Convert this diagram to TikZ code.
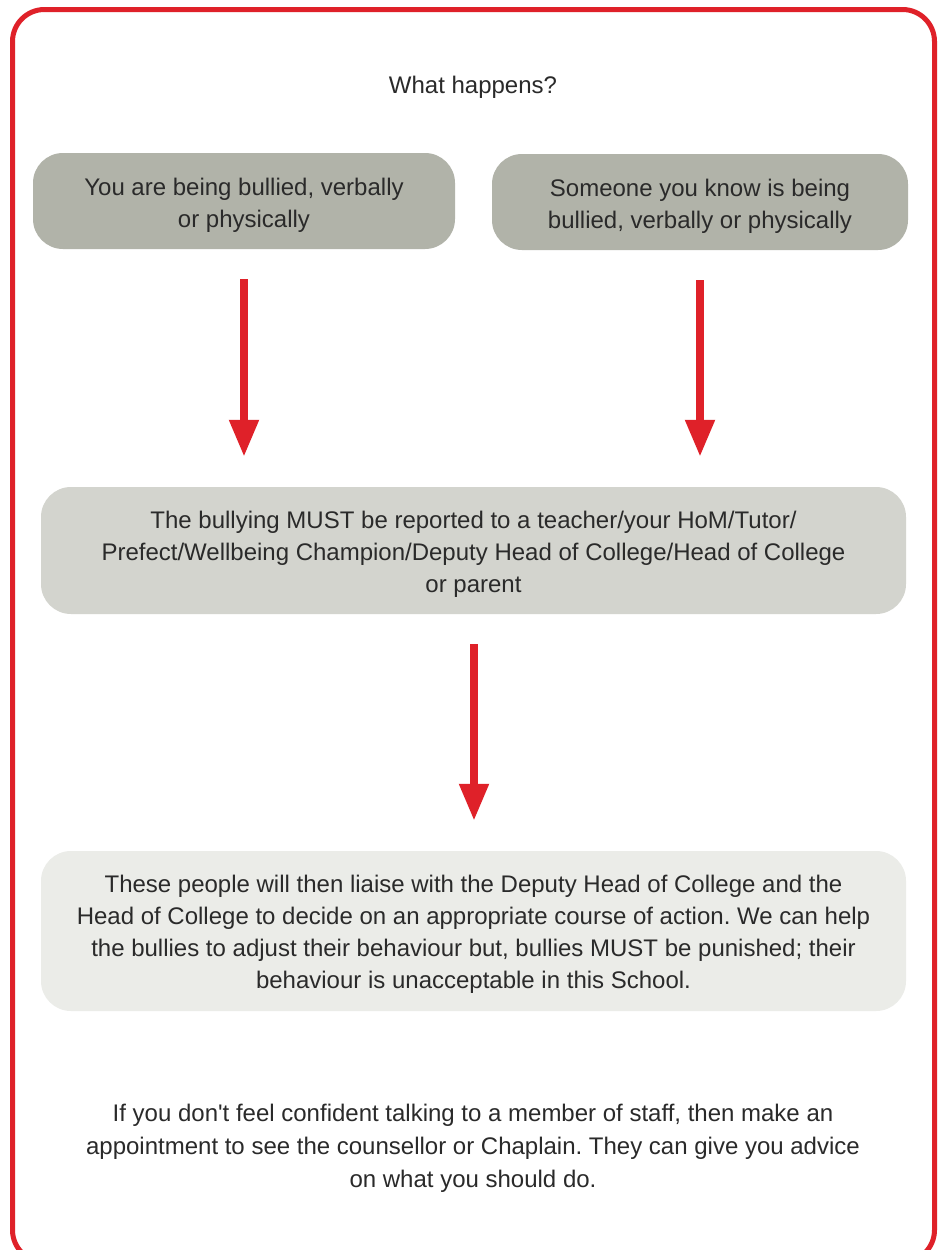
\documentclass[tikz,border=0pt]{standalone}
\usepackage{fontspec}
\setmainfont{Liberation Sans}[Ligatures=TeXOff]
\usetikzlibrary{arrows.meta}
\definecolor{bred}{HTML}{DF2129}
\definecolor{gdark}{HTML}{B1B3A9}
\definecolor{gmid}{HTML}{D3D4CE}
\definecolor{glight}{HTML}{EBECE8}
\definecolor{txt}{HTML}{2A2A2A}
\tikzset{
  box/.style={rounded corners=30pt, inner sep=0pt},
  boxtext/.style={inner sep=0pt, align=center, text=txt,
    font=\fontsize{24}{32}\selectfont\frenchspacing},
  txtnode/.style={inner sep=0pt, align=center, text=txt, font=\fontsize{24}{33}\selectfont\frenchspacing},
  flow/.style={draw=bred, line width=8pt,
    -{Triangle[length=37pt,width=28pt]}, shorten <=30pt, shorten >=30pt}
}
\begin{document}
\begin{tikzpicture}[x=1pt,y=-1pt]
\useasboundingbox (0,0) rectangle (941,1250);
\fill[white] (0,0) rectangle (941,1250);
\draw[bred, line width=5pt, rounded corners=32pt] (12.5,9.5) rectangle (934.5,1262);
\node[txtnode] (title) at (473,87) {What happens?};
\node[box, fill=gdark, minimum width=422pt, minimum height=96pt] (you) at (244,201) {};
\node[boxtext] (youtext) at ([yshift=-4pt]you.center)
  {You are being bullied, verbally\\or physically};
\node[box, fill=gdark, minimum width=416pt, minimum height=96pt] (some) at (700,202) {};
\node[boxtext] (sometext) at ([yshift=-4pt]some.center)
  {Someone you know is being\\bullied, verbally or physically};
\node[box, fill=gmid, minimum width=865pt, minimum height=127pt] (report) at (473.5,550.5) {};
\node[boxtext] (reporttext) at ([yshift=-4pt]report.center)
  {The bullying MUST be reported to a teacher/your HoM/Tutor/\\Prefect/Wellbeing Champion/Deputy Head of College/Head of College\\or parent};
\node[box, fill=glight, minimum width=865pt, minimum height=160pt] (liaise) at (473.5,931) {};
\node[boxtext] (liaisetext) at ([yshift=-3.5pt]liaise.center)
  {These people will then liaise with the Deputy Head of College and the\\Head of College to decide on an appropriate course of action. We can help\\the bullies to adjust their behaviour but, bullies MUST be punished; their\\behaviour is unacceptable in this School.};
\node[txtnode] (note) at (473,1148)
  {If you don't feel confident talking to a member of staff, then make an\\appointment to see the counsellor or Chaplain. They can give you advice\\on what you should do.};
\draw[flow] (you.south) -- (you.south |- report.north);
\draw[flow] (some.south) -- (some.south |- report.north);
\draw[flow] (report.south -| 474,0) -- (liaise.north -| 474,0);
\end{tikzpicture}
\end{document}
